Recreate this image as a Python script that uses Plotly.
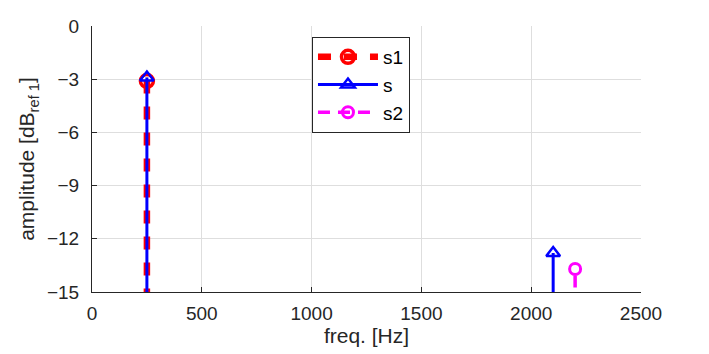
import plotly.graph_objects as go

# data
s1_freq = [250]
s1_amp = [-3.1]
s_freq = [250, 2100]
s_amp = [-2.9, -12.8]
s2_freq = [2200]
s2_amp = [-13.7]
x_ticks = [0, 500, 1000, 1500, 2000, 2500]
y_ticks = [0, -3, -6, -9, -12, -15]
BASE = -17


def stems(xs, ys):
    X, Y = [], []
    for x, y in zip(xs, ys):
        X += [x, x, None]
        Y += [BASE, y, None]
    return X[:-1], Y[:-1]


fig = go.Figure()
x, y = stems(s1_freq, s1_amp)
fig.add_trace(go.Scatter(x=x, y=y, mode="lines+markers", name="s1", legendgroup="a",
                         line=dict(color="#ff0000", width=6.5, dash="13px,13px"),
                         marker=dict(symbol="circle-open", size=13, color="#ff0000",
                                     line=dict(width=3.5, color="#ff0000"))))
x, y = stems(s_freq, s_amp)
fig.add_trace(go.Scatter(x=x, y=y, mode="lines+markers", name="s", legendgroup="b",
                         line=dict(color="#0000ff", width=3),
                         marker=dict(symbol="triangle-up-open", size=12, color="#0000ff",
                                     line=dict(width=2.5, color="#0000ff"))))
x, y = stems(s2_freq, s2_amp)
fig.add_trace(go.Scatter(x=x, y=y, mode="lines+markers", name="s2", legendgroup="c",
                         line=dict(color="#ff00ff", width=3.5, dash="12px,8px"),
                         marker=dict(symbol="circle-open", size=11, color="#ff00ff",
                                     line=dict(width=3, color="#ff00ff"))))

axis_common = dict(showgrid=True, gridcolor="#dedede", gridwidth=1,
                   showline=True, linecolor="#262626", linewidth=1,
                   ticks="inside", ticklen=5, tickcolor="#262626",
                   tickfont=dict(size=19, color="#262626"), zeroline=False)

fig.update_layout(
    width=709, height=354,
    margin=dict(l=92, r=68, t=26, b=62),
    paper_bgcolor="white", plot_bgcolor="white",
    font=dict(family="Liberation Sans, Arial, sans-serif", color="#262626"),
    xaxis=dict(range=[0, 2500], tickvals=x_ticks, ticklabelstandoff=4,
               title=dict(text="freq. [Hz]", font=dict(size=21), standoff=4),
               **axis_common),
    yaxis=dict(range=[-15, 0], tickvals=y_ticks, ticklabelstandoff=8,
               title=dict(text="amplitude [dB<sub>ref 1</sub>]", font=dict(size=21), standoff=6),
               **axis_common),
    legend=dict(x=0.4007, y=0.9586, xanchor="left", yanchor="top",
                bgcolor="white", bordercolor="#262626", borderwidth=1,
                font=dict(size=19, color="#000000"), tracegroupgap=0,
                itemwidth=60),
    showlegend=True,
)

fig.write_html("out.html")
